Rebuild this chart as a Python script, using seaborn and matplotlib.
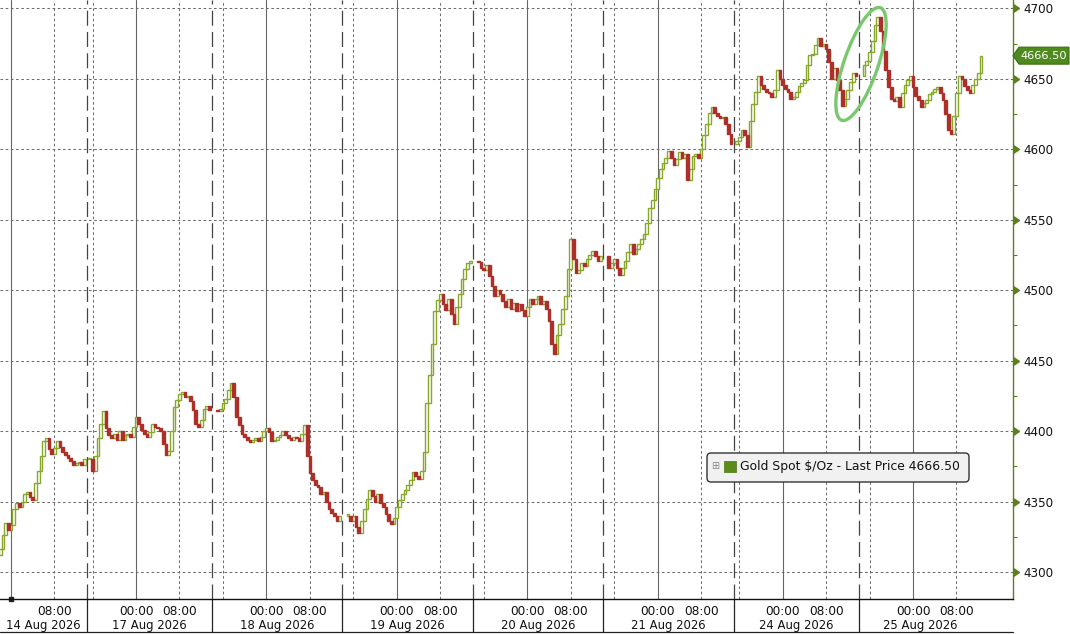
import numpy as np
import pandas as pd
import matplotlib
matplotlib.use("Agg")
import matplotlib.pyplot as plt
import matplotlib.transforms as mtransforms
from matplotlib.patches import Polygon, Ellipse, FancyBboxPatch, Rectangle
from matplotlib.ticker import FixedLocator
import seaborn as sns

# ---- data -------------------------------------------------------------
series_name = "Gold Spot $/Oz"

session_labels = ["14 Aug 2026", "17 Aug 2026", "18 Aug 2026", "19 Aug 2026",
                  "20 Aug 2026", "21 Aug 2026", "24 Aug 2026", "25 Aug 2026"]
session_opens = ["2026-08-13 22:00", "2026-08-16 15:30", "2026-08-17 15:00", "2026-08-18 15:00",
                 "2026-08-19 15:00", "2026-08-20 15:00", "2026-08-23 15:30", "2026-08-24 15:00"]
session_breaks = ["2026-08-14 14:00", "2026-08-17 14:00", "2026-08-18 14:00", "2026-08-19 14:00",
                  "2026-08-20 14:00", "2026-08-21 14:00", "2026-08-24 14:00"]
weekend_gaps = [("2026-08-14 14:00", "2026-08-16 15:00"),
                ("2026-08-21 14:00", "2026-08-23 15:00")]
trade_days = ["2026-08-14", "2026-08-17", "2026-08-18", "2026-08-19",
              "2026-08-20", "2026-08-21", "2026-08-24", "2026-08-25"]
evening_days = ["2026-08-16", "2026-08-17", "2026-08-18", "2026-08-19",
                "2026-08-20", "2026-08-23", "2026-08-24"]

first_open = 4312

# 30 minute closes, one list per session
closes_14aug = [4316, 4326, 4335, 4330, 4333, 4345, 4349, 4346, 4350, 4355, 4357, 4353, 4351, 4363,
                4372, 4382, 4393, 4395, 4387, 4384, 4388, 4393, 4389, 4385, 4383, 4381, 4379, 4376,
                4377, 4378, 4376, 4380]
closes_17aug = [4380, 4372, 4382, 4395, 4405, 4414, 4402, 4397, 4395, 4398, 4394, 4400, 4394, 4397,
                4398, 4396, 4403, 4410, 4405, 4401, 4398, 4396, 4399, 4405, 4403, 4402, 4400, 4391,
                4383, 4386, 4400, 4417, 4422, 4426, 4428, 4424, 4425, 4421, 4415, 4405, 4403, 4408,
                4416, 4418, 4415]
closes_18aug = [4414, 4416, 4420, 4423, 4429, 4434, 4424, 4410, 4404, 4398, 4396, 4394, 4392, 4394,
                4395, 4393, 4396, 4400, 4402, 4399, 4393, 4394, 4396, 4397, 4400, 4397, 4395, 4394,
                4396, 4395, 4393, 4398, 4404, 4382, 4370, 4365, 4362, 4360, 4355, 4357, 4350, 4345,
                4342, 4340, 4336, 4340]
closes_19aug = [4340, 4336, 4340, 4332, 4328, 4336, 4345, 4352, 4358, 4354, 4350, 4355, 4349, 4346,
                4341, 4336, 4334, 4338, 4346, 4351, 4355, 4358, 4362, 4365, 4371, 4368, 4366, 4372,
                4385, 4420, 4440, 4462, 4485, 4493, 4497, 4490, 4486, 4494, 4483, 4476, 4488, 4497,
                4508, 4515, 4519, 4521]
closes_20aug = [4520, 4516, 4514, 4518, 4510, 4503, 4496, 4500, 4497, 4492, 4488, 4494, 4487, 4491,
                4485, 4490, 4486, 4482, 4488, 4494, 4490, 4494, 4496, 4490, 4492, 4487, 4478, 4462,
                4455, 4468, 4476, 4487, 4496, 4515, 4536, 4522, 4512, 4514, 4519, 4517, 4522, 4525,
                4528, 4524, 4521, 4524]
closes_21aug = [4516, 4519, 4522, 4516, 4511, 4516, 4521, 4527, 4533, 4526, 4529, 4533, 4536, 4540,
                4548, 4558, 4564, 4572, 4580, 4586, 4590, 4594, 4599, 4594, 4589, 4593, 4598, 4594,
                4597, 4578, 4586, 4595, 4597, 4594, 4600, 4610, 4618, 4626, 4630, 4626, 4624, 4622,
                4623, 4618, 4611, 4604]
closes_24aug = [4606, 4609, 4614, 4610, 4602, 4620, 4632, 4641, 4652, 4646, 4643, 4641, 4640, 4637,
                4642, 4656, 4650, 4646, 4643, 4641, 4636, 4637, 4641, 4645, 4647, 4649, 4660, 4667,
                4668, 4674, 4679, 4673, 4675, 4671, 4662, 4650, 4658, 4649, 4642, 4631, 4636, 4642,
                4648, 4654, 4652]
closes_25aug = [4660, 4663, 4669, 4677, 4688, 4694, 4684, 4670, 4656, 4644, 4636, 4634, 4637, 4630,
                4640, 4646, 4649, 4652, 4644, 4638, 4635, 4630, 4633, 4635, 4639, 4641, 4643, 4644,
                4640, 4635, 4625, 4614, 4611, 4624, 4640, 4652, 4650, 4645, 4642, 4640, 4646, 4650,
                4654, 4666.5]

session_closes = [closes_14aug, closes_17aug, closes_18aug, closes_19aug,
                  closes_20aug, closes_21aug, closes_24aug, closes_25aug]

y_ticks = list(range(4300, 4701, 50))

# ---- colours ------------------------------------------------------------
up_color = "#88a82c"
down_color = "#ac2f2a"
axis_green = "#5d7f1e"
tag_green = "#4e8a1e"
ring_green = "#78c86e"

# ---- trading time axis -------------------------------------------------
origin = pd.Timestamp("2026-08-14 00:00")


def x_of(ts):
    """hours since 14 Aug 00:00 with the weekend gaps squeezed out"""
    ts = pd.Timestamp(ts)
    h = (ts - origin).total_seconds() / 3600
    for a, b in weekend_gaps:
        a, b = pd.Timestamp(a), pd.Timestamp(b)
        if ts >= b:
            h -= (b - a).total_seconds() / 3600
        elif ts > a:
            h -= (ts - a).total_seconds() / 3600
    return h


def in_gap(ts):
    return any(pd.Timestamp(a) < ts < pd.Timestamp(b) for a, b in weekend_gaps)


bar_x, bar_close = [], []
for start, closes in zip(session_opens, session_closes):
    times = pd.date_range(start, periods=len(closes), freq="30min")
    bar_x += [x_of(t) for t in times]
    bar_close += closes
bar_x = np.array(bar_x)
bar_close = np.array(bar_close, dtype=float)
bar_open = np.r_[first_open, bar_close[:-1]]
last_price = bar_close[-1]

# ---- figure ------------------------------------------------------------
sns.set_theme(style="white")
plt.rcParams["font.family"] = ["DejaVu Sans"]

W, H = 1070, 634
fig = plt.figure(figsize=(W / 100, H / 100), dpi=100)
fig.patch.set_facecolor("white")
ax = fig.add_axes([0, 35 / H, 1013 / W, 599 / H])
ax.set_facecolor("white")
ax.set_xlim(-2.03, 184.4)
ax.set_ylim(4280.8, 4706.0)

xdata_yaxes = mtransforms.blended_transform_factory(ax.transData, ax.transAxes)
xaxes_ydata = mtransforms.blended_transform_factory(ax.transAxes, ax.transData)

# grid
dotted = (0, (2.5, 2.5))
for v in y_ticks:
    ax.axhline(v, color="#6c6c6c", lw=0.75, ls=dotted, zorder=1)
for d in trade_days:
    ax.axvline(x_of(f"{d} 00:00"), color="#666666", lw=0.8, zorder=1)
    ax.axvline(x_of(f"{d} 08:00"), color="#6c6c6c", lw=0.75, ls=dotted, zorder=1)
for d in evening_days:
    ax.axvline(x_of(f"{d} 16:00"), color="#6c6c6c", lw=0.75, ls=dotted, zorder=1)
for b in session_breaks:
    ax.axvline(x_of(b), color="#444444", lw=0.9, ls=(0, (12, 5)), zorder=1)

# candles
up = bar_close >= bar_open
body_low = np.minimum(bar_open, bar_close)
body_h = np.maximum(np.abs(bar_close - bar_open), 0.8)
ax.bar(bar_x[up], body_h[up], bottom=body_low[up], width=0.5,
       facecolor="white", edgecolor=up_color, linewidth=1.0, zorder=3)
ax.bar(bar_x[~up], body_h[~up], bottom=body_low[~up], width=0.5,
       facecolor=down_color, edgecolor=down_color, linewidth=1.0, zorder=3)

# spines
for s in ["left", "top"]:
    ax.spines[s].set_visible(False)
ax.spines["right"].set_color(axis_green)
ax.spines["right"].set_linewidth(1.0)
ax.spines["bottom"].set_color("#111111")
ax.spines["bottom"].set_linewidth(1.0)

# right price axis
ax.yaxis.tick_right()
ax.set_yticks(y_ticks)
ax.yaxis.set_minor_locator(FixedLocator(list(range(4325, 4700, 50))))
ax.tick_params(axis="y", which="major", length=0, pad=7.5, labelsize=8.6, labelcolor="#111111")
ax.tick_params(axis="y", which="minor", length=3, width=0.8, color=axis_green, direction="out")
ax.plot(np.ones(len(y_ticks)), y_ticks, ls="none", marker=9, ms=5.5, color=axis_green,
        transform=xaxes_ydata, clip_on=False, zorder=5)

# bottom time axis
tick_times = [t for t in pd.date_range("2026-08-14 00:00", "2026-08-25 12:00", freq="4h")
              if not in_gap(t)]
major_t = [t for t in tick_times if t.hour in (0, 8) and t != origin]
minor_t = [t for t in tick_times if t not in major_t]
ax.set_xticks([x_of(t) for t in major_t])
ax.set_xticklabels([t.strftime("%H:%M") for t in major_t])
ax.xaxis.set_minor_locator(FixedLocator([x_of(t) for t in minor_t]))
ax.tick_params(axis="x", which="both", length=2.2, width=0.8, color="#222222",
               direction="out", pad=2.0, labelsize=8.7, labelcolor="#111111")
ax.plot(x_of(origin), 0, marker="s", ms=2.6, color="#222222", transform=xdata_yaxes, clip_on=False)

# date band under the axis
band = -33 / 599
data_end = bar_x[-1] + 0.25
edges = [ax.get_xlim()[0]] + [x_of(b) for b in session_breaks] + [data_end]
ax.vlines([x_of(b) for b in session_breaks], band, 0, color="#222222", lw=0.9,
          transform=xdata_yaxes, clip_on=False)
ax.plot(ax.get_xlim(), [band, band], color="#222222", lw=0.9, transform=xdata_yaxes, clip_on=False)
for lab, a, b in zip(session_labels, edges[:-1], edges[1:]):
    ax.text((a + b) / 2, -27 / 599, lab, transform=xdata_yaxes, ha="center", va="center",
            fontsize=8.4, color="#111111")

# last price tag
fig.canvas.draw()
xs = ax.transAxes.transform((1, 0))[0]
y0 = ax.transData.transform((0, last_price))[1]
tag = Polygon([(xs, y0), (xs + 6, y0 + 8.5), (xs + 56, y0 + 8.5), (xs + 56, y0 - 8.5),
               (xs + 6, y0 - 8.5)], closed=True, facecolor=tag_green, edgecolor="#3c6e14",
              lw=0.8, transform=mtransforms.IdentityTransform(), clip_on=False, zorder=6)
fig.patches.append(tag)
fig.text((xs + 31) / W, y0 / H, f"{last_price:.2f}", color="white", fontsize=8.2,
         ha="center", va="center", zorder=7)

# legend box
ident = mtransforms.IdentityTransform()
fig.patches.append(FancyBboxPatch((707, H - 482), 262, 29, boxstyle="round,pad=0,rounding_size=4",
                                  facecolor="#f1f1f1", edgecolor="#333333", lw=1.0,
                                  transform=ident, zorder=8))
fig.patches.append(Rectangle((724, H - 472), 12, 11, facecolor="#5b8c1a", edgecolor="#4a7514",
                             lw=0.5, transform=ident, zorder=9))
fig.text(715 / W, (H - 466) / H, "\u229e", fontsize=7, color="#888888", ha="center", va="center", zorder=9)
fig.text(740 / W, (H - 466.5) / H, f"{series_name.replace('$', chr(92) + '$')} - Last Price {last_price:.2f}",
         fontsize=8.9, color="#111111", ha="left", va="center", zorder=9)

# highlight ring
fig.patches.append(Ellipse((8.61, (H - 64) / 100), 1.19, 0.34, angle=71, fill=False,
                           edgecolor=ring_green, lw=2.4, transform=fig.dpi_scale_trans, zorder=6))

fig.savefig("out.png", dpi=100, facecolor="white")
